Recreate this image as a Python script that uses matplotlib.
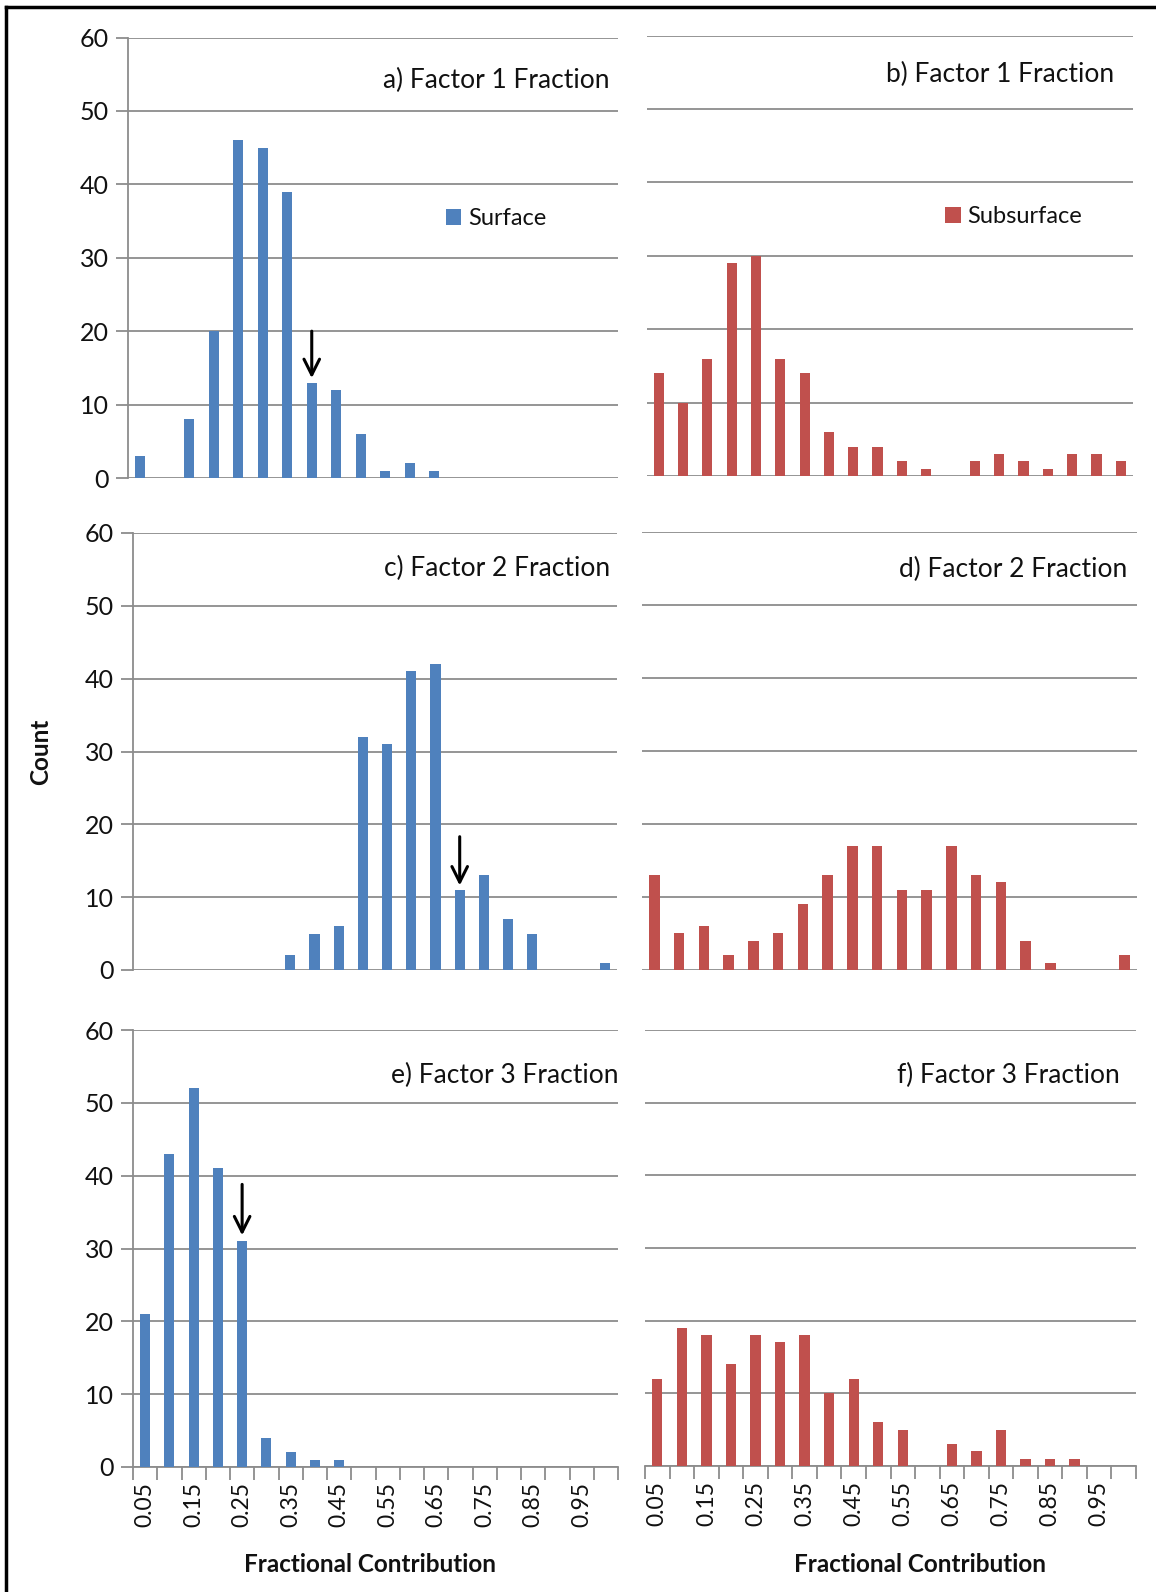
import matplotlib
matplotlib.use("Agg")
import matplotlib.pyplot as plt
from matplotlib.lines import Line2D
import numpy as np

plt.rcParams['font.family'] = ['Lato', 'DejaVu Sans']

# ---------------- data ----------------
bins = [0.05, 0.10, 0.15, 0.20, 0.25, 0.30, 0.35, 0.40, 0.45, 0.50,
        0.55, 0.60, 0.65, 0.70, 0.75, 0.80, 0.85, 0.90, 0.95, 1.00]

surface_f1 = [3, 0, 8, 20, 46, 45, 39, 13, 12, 6, 1, 2, 1, 0, 0, 0, 0, 0, 0, 0]
subsurface_f1 = [14, 10, 16, 29, 30, 16, 14, 6, 4, 4, 2, 1, 0, 2, 3, 2, 1, 3, 3, 2]
surface_f2 = [0, 0, 0, 0, 0, 0, 2, 5, 6, 32, 31, 41, 42, 11, 13, 7, 5, 0, 0, 1]
subsurface_f2 = [13, 5, 6, 2, 4, 5, 9, 13, 17, 17, 11, 11, 17, 13, 12, 4, 1, 0, 0, 2]
surface_f3 = [21, 43, 52, 41, 31, 4, 2, 1, 1, 0, 0, 0, 0, 0, 0, 0, 0, 0, 0, 0]
subsurface_f3 = [12, 19, 18, 14, 18, 17, 18, 10, 12, 6, 5, 0, 3, 2, 5, 1, 1, 1, 0, 0]

titles = ["a) Factor 1 Fraction", "b) Factor 1 Fraction",
          "c) Factor 2 Fraction", "d) Factor 2 Fraction",
          "e) Factor 3 Fraction", "f) Factor 3 Fraction"]
series_names = ["Surface", "Subsurface"]
y_ticks = [0, 10, 20, 30, 40, 50, 60]
x_tick_labels = ["0.05", "0.15", "0.25", "0.35", "0.45",
                 "0.55", "0.65", "0.75", "0.85", "0.95"]

# arrows: (panel index, bin value, tail count, tip count)
arrows = [(0, 0.40, 20.0, 13.6), (2, 0.70, 18.3, 11.6), (4, 0.25, 38.8, 31.8)]

# ---------------- styling ----------------
BLUE = "#4F81BD"
RED = "#C0504D"
GRID = "#8C8C8C"
TXT = "#111111"

W, H = 1156, 1592
fig = plt.figure(figsize=(W / 100, H / 100), dpi=100)


def rect(x0, y0, x1, y1):
    return [x0 / W, 1 - y1 / H, (x1 - x0) / W, (y1 - y0) / H]

# pixel boxes (left, top(60), right, bottom(0))
boxes = [
    (128, 37.5, 618, 478), (646.5, 35.5, 1133, 476),
    (133, 533, 617, 970), (642, 532, 1137, 970),
    (133, 1030, 618, 1467), (645, 1030, 1136, 1466),
]
data = [surface_f1, subsurface_f1, surface_f2, subsurface_f2, surface_f3, subsurface_f3]
title_x = [0.982, 0.962, 0.985, 0.98, 1.002, 0.967]
title_y = [54.1, 54.7, 55.1, 54.9, 53.8, 53.8]
xlabel_x = [0.489, 0.56]

x = np.arange(len(bins))
axes = []
for i, (box, vals) in enumerate(zip(boxes, data)):
    ax = fig.add_axes(rect(*box))
    axes.append(ax)
    left = (i % 2 == 0)
    color = BLUE if left else RED
    label = series_names[0] if left else series_names[1]
    ax.bar(x, vals, width=0.42, color=color, label=label, zorder=3)
    ax.set_xlim(-0.5, len(bins) - 0.5)
    ax.set_ylim(0, 60)
    ax.set_yticks(y_ticks)
    ax.yaxis.grid(True, color=GRID, lw=1.3, zorder=0)
    ax.set_axisbelow(True)
    for s in ax.spines.values():
        s.set_visible(False)
    if left:
        ax.spines['left'].set_visible(True)
        ax.spines['left'].set_color(GRID)
        ax.spines['left'].set_linewidth(1.3)
        ax.tick_params(axis='y', length=9, width=1.3, color=GRID,
                       labelsize=18, labelcolor=TXT, pad=5)
    else:
        ax.tick_params(axis='y', length=0, labelleft=False)
    bottom_row = i >= 4
    if bottom_row:
        ax.spines['bottom'].set_visible(True)
        ax.spines['bottom'].set_color(GRID)
        ax.spines['bottom'].set_linewidth(1.3)
        ax.set_xticks(x[::2])
        ax.set_xticklabels(x_tick_labels, rotation=90, fontsize=16.5, color=TXT)
        ax.set_xticks(np.arange(-0.5, len(bins)), minor=True)
        ax.tick_params(axis='x', which='major', length=0, pad=11)
        ax.tick_params(axis='x', which='minor', length=9, width=1.3, color=GRID)
        ax.set_xlabel("Fractional Contribution", fontsize=17.5, fontweight='bold',
                      color=TXT)
        ax.xaxis.set_label_coords(xlabel_x[i % 2], -(1564 - box[3]) / (box[3] - box[1]))
        ax.xaxis.label.set_va('center')
    else:
        ax.set_xticks([])
    ax.text(title_x[i], title_y[i], titles[i], transform=ax.get_yaxis_transform(),
            ha='right', va='center', fontsize=19, color=TXT)
    if i < 2:
        lx = 0.649 if left else 0.614
        ax.legend(loc='center left', bbox_to_anchor=(lx, 0.588), frameon=False,
                  fontsize=17, handlelength=0.65, handleheight=0.65,
                  handletextpad=0.3, borderpad=0, borderaxespad=0,
                  labelcolor=TXT)

for (pi, b, tail, tip) in arrows:
    ax = axes[pi]
    xi = bins.index(b)
    ax.annotate('', xy=(xi, tip), xytext=(xi, tail),
                arrowprops=dict(arrowstyle='->', lw=2.2, color='black',
                                mutation_scale=28, shrinkA=0, shrinkB=0),
                zorder=5)

fig.text(41 / W, 1 - 752 / H, "Count", rotation=90, ha='center', va='center',
         fontsize=17.5, fontweight='bold', color=TXT)

# frame lines (top and left)
fig.add_artist(Line2D([6 / W, 6 / W], [0, 1 - 7 / H], transform=fig.transFigure,
                      color='black', lw=2.5))
fig.add_artist(Line2D([6 / W, 1], [1 - 7 / H, 1 - 7 / H], transform=fig.transFigure,
                      color='black', lw=2.5))

fig.savefig("out.png", dpi=100, facecolor='white')
